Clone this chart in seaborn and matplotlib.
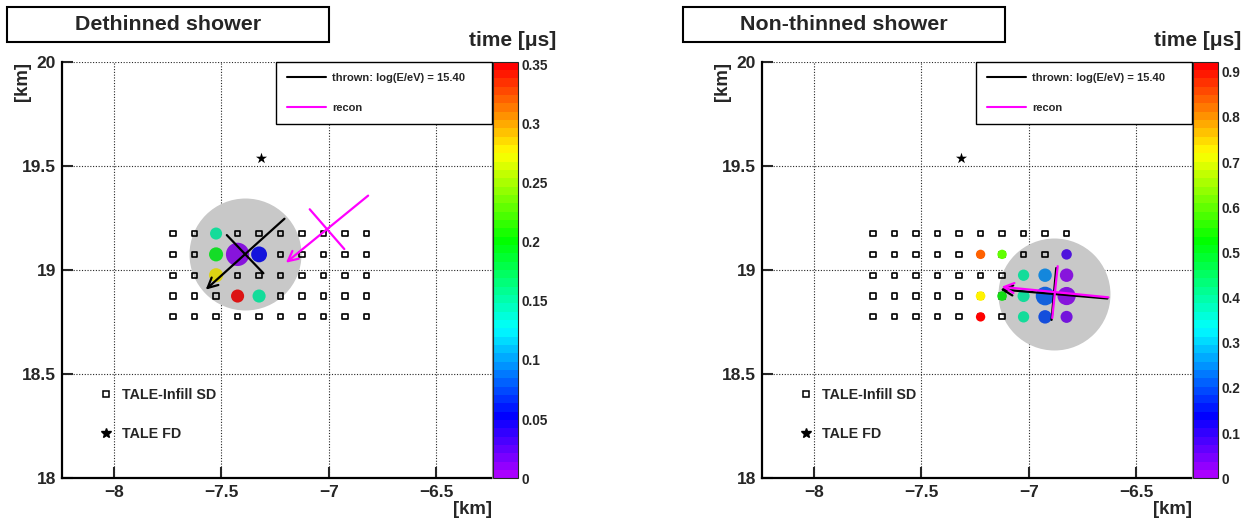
import colorsys
import matplotlib
matplotlib.use('Agg')
import matplotlib.pyplot as plt
from matplotlib.colors import ListedColormap, Normalize
from matplotlib.cm import ScalarMappable
from matplotlib.lines import Line2D
from matplotlib.patches import Rectangle
from matplotlib.ticker import FuncFormatter
import numpy as np
import pandas as pd
import seaborn as sns

# TALE-Infill SD positions [km]
sd_x = [-7.725, -7.625, -7.525, -7.425, -7.325, -7.225, -7.125, -7.025, -6.925, -6.825]
sd_y = [18.775, 18.875, 18.975, 19.075, 19.175]
fd_x = [-7.317]
fd_y = [19.537]
log_energy = 15.40

# dethinned shower: hit counters
dt_x = [-7.525, -7.525, -7.525, -7.425, -7.325, -7.425, -7.325]
dt_y = [19.175, 19.075, 18.975, 19.075, 19.075, 18.875, 18.875]
dt_time = [0.151, 0.194, 0.277, 0.008, 0.050, 0.345, 0.151]
dt_charge = [1.1, 1.7, 1.7, 5.6, 2.3, 1.4, 1.4]
dt_tmax = 0.352
dt_thrown = (-7.390, 19.076, 222.9)   # core x, core y, direction [deg]
dt_recon = (-7.009, 19.196, 220.1)

# non-thinned shower: hit counters
nt_x = [-7.225, -7.125, -7.225, -7.225, -7.125, -7.025, -7.025, -7.025,
        -6.925, -6.925, -6.925, -6.825, -6.825, -6.825, -6.825]
nt_y = [19.075, 19.075, 18.875, 18.775, 18.875, 18.975, 18.875, 18.775,
        18.975, 18.875, 18.775, 19.075, 18.975, 18.875, 18.775]
nt_time = [0.84, 0.60, 0.72, 0.91, 0.53, 0.40, 0.40, 0.40,
           0.24, 0.21, 0.19, 0.08, 0.02, 0.02, 0.04]
nt_charge = [0.45, 0.45, 0.5, 0.45, 0.5, 0.9, 1.1, 0.9,
             1.5, 3.4, 1.5, 0.7, 1.5, 3.2, 1.1]
nt_tmax = 0.922
nt_thrown = (-6.884, 18.885, 175.0)
nt_recon = (-6.879, 18.894, 174.2)

core_radius = 0.26  # km, grey disc

sns.set_style('ticks')
plt.rcParams['font.family'] = ['Liberation Sans', 'DejaVu Sans']
plt.rcParams['font.weight'] = 'bold'
plt.rcParams['axes.labelweight'] = 'bold'

# ROOT-like rainbow palette, 50 levels
rgb = [colorsys.hsv_to_rgb(h, 1, 1) for h in np.linspace(280 / 360, 0, 50)]
cmap = ListedColormap(rgb)
cmap_dark = ListedColormap(np.array(rgb) * 0.784 + 0.08)

W, H = 1245, 522
fig = plt.figure(figsize=(W / 100, H / 100), dpi=100)


def draw_axis(ax, core, color):
    cx, cy, ang = core
    d = np.array([np.cos(np.radians(ang)), np.sin(np.radians(ang))])
    p = np.array([-d[1], d[0]])
    tail = np.array([cx, cy]) - 0.25 * d
    head = np.array([cx, cy]) + 0.25 * d
    ax.annotate('', xy=head, xytext=tail, zorder=5,
                arrowprops=dict(arrowstyle='->', color=color, lw=1.6,
                                mutation_scale=18, shrinkA=0, shrinkB=0))
    ends = np.array([[cx, cy] - 0.125 * p, [cx, cy] + 0.125 * p])
    ax.plot(ends[:, 0], ends[:, 1], color=color, lw=1.6, zorder=5)


def panel(x0, title, box_x, hx, hy, ht, hq, tmax, thrown, recon, tlab_x, ticks):
    ax = fig.add_axes([x0 / W, 1 - 478.3 / H, 429.8 / W, 416.6 / H])
    cax = fig.add_axes([(x0 + 431) / W, 1 - 478.3 / H, 24.8 / W, 416.6 / H])

    # grey disc around thrown core
    ax.scatter([thrown[0]], [thrown[1]], s=6500, color='#c8c8c8', lw=0, zorder=1)

    gx, gy = np.meshgrid(sd_x, sd_y)
    ax.scatter(gx.ravel(), gy.ravel(), marker='s', s=14, facecolors='none',
               edgecolors='k', linewidths=1.2, zorder=2)
    ax.scatter(fd_x, fd_y, marker='*', s=70, color='k', lw=0, zorder=2)

    df = pd.DataFrame({'x': hx, 'y': hy, 'time': ht, 'charge': hq})
    df['inside'] = np.hypot(df.x - thrown[0], df.y - thrown[1]) < core_radius
    norm = Normalize(0, tmax)
    for flag, pal in [(True, cmap_dark), (False, cmap)]:
        sub = df[df.inside == flag]
        if len(sub):
            sns.scatterplot(data=sub, x='x', y='y', hue='time', palette=pal,
                            hue_norm=norm, size='charge', sizes=(25, 300),
                            size_norm=(0, 6), linewidth=0, legend=False,
                            ax=ax, zorder=3)

    draw_axis(ax, thrown, 'k')
    draw_axis(ax, recon, '#ff00ff')

    ax.set_xlim(-8.243, -6.244)
    ax.set_ylim(18, 20)
    ax.set_xticks([-8, -7.5, -7, -6.5])
    ax.set_yticks([18, 18.5, 19, 19.5, 20])
    ax.xaxis.set_major_formatter(FuncFormatter(lambda v, _: f'{v:g}'.replace('-', '\u2212')))
    ax.yaxis.set_major_formatter(FuncFormatter(lambda v, _: f'{v:g}'))
    ax.tick_params(direction='in', length=8, width=1.5, labelsize=12.5, pad=5)
    ax.tick_params(axis='y', pad=4)
    ax.grid(True, linestyle=(0, (1, 1.5)), color='0.15', lw=0.8)
    ax.set_axisbelow(True)
    for s in ['left', 'bottom']:
        ax.spines[s].set_linewidth(1.6)
        ax.spines[s].set_color('k')
    ax.spines['top'].set_visible(False)
    ax.spines['right'].set_color('0.6')
    ax.spines['right'].set_linewidth(0.8)

    ax.set_xlabel('[km]', fontsize=13.4, loc='right')
    ax.xaxis.set_label_coords(1.0, -0.076)
    ax.xaxis.label.set_va('center')
    ax.set_ylabel('[km]', fontsize=13.4, loc='top')
    ax.yaxis.set_label_coords(-0.092, 1.0)
    ax.yaxis.label.set_va('center')

    leg = ax.legend(handles=[
        Line2D([], [], color='k', lw=1.5, label=f'thrown: log(E/eV) = {log_energy:.2f}'),
        Line2D([], [], color='#ff00ff', lw=1.5, label='recon')],
        loc='upper left', bbox_to_anchor=(0.498, 0.85, 0.502, 0.15), mode='expand',
        borderaxespad=0, fancybox=False, framealpha=1, edgecolor='k',
        prop={'weight': 'bold', 'size': 8}, handlelength=3.5, handletextpad=0.6,
        labelspacing=1.8, borderpad=1.0)
    leg.get_frame().set_linewidth(1.0)
    leg.set_zorder(6)
    ax.add_artist(leg)

    ax.legend(handles=[
        Line2D([], [], ls='none', marker='s', ms=4.5, mfc='none', mec='k', mew=1.1,
               label='TALE-Infill SD'),
        Line2D([], [], ls='none', marker='*', ms=7.5, color='k', label='TALE FD')],
        loc='center left', bbox_to_anchor=(0.0854, 0.153), frameon=False,
        borderaxespad=0, borderpad=0, handlelength=1.0, handletextpad=0.68,
        labelspacing=1.7, prop={'weight': 'bold', 'size': 10.3})

    cb = fig.colorbar(ScalarMappable(norm=norm, cmap=cmap), cax=cax)
    cb.set_ticks(ticks)
    cb.ax.yaxis.set_major_formatter(FuncFormatter(lambda v, _: f'{v:g}'))
    cax.tick_params(direction='in', length=8, width=1.2, labelsize=9.8, pad=3)
    cb.outline.set_linewidth(0.8)
    fig.text(tlab_x / W, 1 - 41 / H, 'time [\u03bcs]', ha='right', va='center',
             fontsize=15, fontweight='bold')

    fig.add_artist(Rectangle((box_x / W, 1 - 42.3 / H), 322 / W, 35 / H,
                             transform=fig.transFigure, fill=False, ec='k', lw=1.5))
    fig.text((box_x + 161) / W, 1 - 24.8 / H, title, ha='center', va='center',
             fontsize=15.4, fontweight='bold')


panel(61.7, 'Dethinned shower', 7.3, dt_x, dt_y, dt_time, dt_charge, dt_tmax,
      dt_thrown, dt_recon, 556, [0, 0.05, 0.1, 0.15, 0.2, 0.25, 0.3, 0.35])
panel(761.7, 'Non-thinned shower', 682.7, nt_x, nt_y, nt_time, nt_charge, nt_tmax,
      nt_thrown, nt_recon, 1241, [0, 0.1, 0.2, 0.3, 0.4, 0.5, 0.6, 0.7, 0.8, 0.9])

fig.savefig('out.png', dpi=100)
